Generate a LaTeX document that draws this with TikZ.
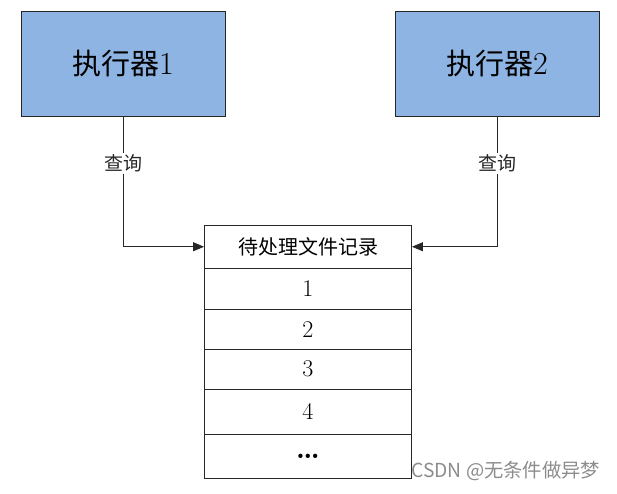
\documentclass[tikz,border=0pt]{standalone}
\usepackage{fontspec}
\newfontfamily\cjk{Noto Sans CJK SC}
\usetikzlibrary{arrows.meta}
\definecolor{execblue}{RGB}{141,180,226}

\begin{document}
\begin{tikzpicture}[
    x=1pt, y=-1pt,
    executor/.style={rectangle, draw=black!85, line width=0.9pt, fill=execblue, minimum width=204pt, minimum height=105pt, font=\fontsize{29}{34}\selectfont},
    cell/.style={rectangle, draw=black!85, line width=0.9pt, minimum width=207pt, inner sep=0pt, font=\fontsize{24}{28}\selectfont},
    query/.style={fill=white, inner sep=2pt, text=black!85, font=\fontsize{19}{22}\selectfont\cjk},
    arrow/.style={-{Triangle[length=11pt,width=9pt]}, line width=0.9pt, black!85}
]
    \useasboundingbox (0,0) rectangle (617,493);

    % Top: the two executors
    \node[executor] (exec1) at (123, 63.5) {{\cjk 执行器}{\fontsize{32}{34}\selectfont 1}};
    \node[executor] (exec2) at (497, 63.5) {{\cjk 执行器}{\fontsize{32}{34}\selectfont 2}};

    % Bottom: record table
    \node[cell, minimum height=43.5pt, font=\fontsize{20}{24}\selectfont\cjk] (head) at (308, 246.75) {待处理文件记录};
    \node[cell, minimum height=40.8pt] (row1) at (308, 288.9) {1};
    \node[cell, minimum height=40.2pt] (row2) at (308, 329.4) {2};
    \node[cell, minimum height=39.5pt] (row3) at (308, 369.25) {3};
    \node[cell, minimum height=45.3pt] (row4) at (308, 411.65) {4};
    \node[cell, minimum height=44pt, font=\fontsize{30}{32}\selectfont\bfseries] (row5) at (308, 456.3) {\ldots};

    % Queries
    \draw[arrow] (exec1.south) |- node[query, pos=0.18] (query1) {查询} (head.west);
    \draw[arrow] (exec2.south) |- node[query, pos=0.18] (query2) {查询} (head.east);

    % Watermark
    \node[anchor=west, inner sep=0pt, text=black!45, font=\fontsize{19.3}{22}\selectfont\cjk] (mark) at (411, 471) {CSDN @无条件做异梦};

\end{tikzpicture}
\end{document}
